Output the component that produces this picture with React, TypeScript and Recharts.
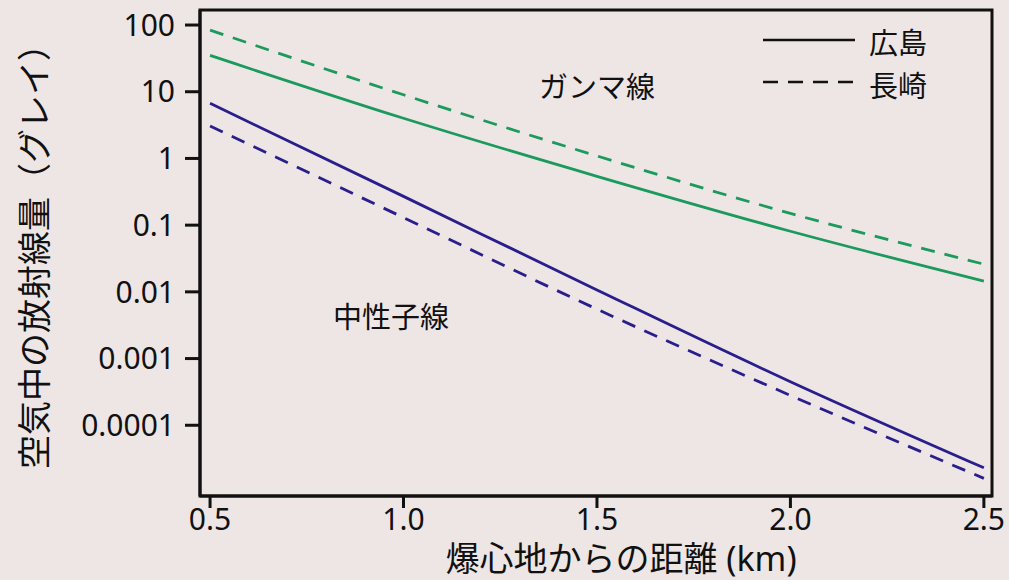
import {
  Legend,
  Line,
  LineChart,
  ReferenceArea,
  ReferenceDot,
  XAxis,
  YAxis,
  Label,
} from "recharts";

const distanceKm = [0.5, 1.0, 1.5, 2.0, 2.5];
const gammaHiroshima = [35, 4.0, 0.54, 0.081, 0.0145];
const gammaNagasaki = [84, 9.0, 1.09, 0.15, 0.026];
const neutronHiroshima = [6.7, 0.27, 0.0107, 0.00045, 0.000023];
const neutronNagasaki = [3.06, 0.13, 0.0055, 0.00028, 0.000016];

const xTicks = [0.5, 1.0, 1.5, 2.0, 2.5];
const yTicks = [0.0001, 0.001, 0.01, 0.1, 1, 10, 100];
const yTickLabels = ["0.0001", "0.001", "0.01", "0.1", "1", "10", "100"];

const X_DOMAIN: [number, number] = [0.474, 2.521];
const Y_DOMAIN: [number, number] = [0.0000087, 168];

const data = distanceKm.map((d, i) => ({
  d,
  gh: gammaHiroshima[i],
  gn: gammaNagasaki[i],
  nh: neutronHiroshima[i],
  nn: neutronNagasaki[i],
}));

const FONT = '"Noto Sans", "Noto Sans CJK JP", sans-serif';
const INK = "#111";
const GREEN = "#1c9a5e";
const BLUE = "#2a1d8c";
const DASH = "14 10";
const TICK = { fontSize: 30, fill: INK, fontFamily: FONT };

function LegendBox() {
  return (
    <svg width={200} height={100} style={{ display: "block" }}>
      <line x1={0} y1={20} x2={92} y2={20} stroke={INK} strokeWidth={2.5} />
      <text x={106} y={22} fontSize={29} fill={INK} fontFamily={FONT} dominantBaseline="central">
        広島
      </text>
      <line x1={0} y1={62} x2={92} y2={62} stroke={INK} strokeWidth={2.5} strokeDasharray="15 10" />
      <text x={106} y={65} fontSize={29} fill={INK} fontFamily={FONT} dominantBaseline="central">
        長崎
      </text>
    </svg>
  );
}

export default function App() {
  return (
    <div style={{ width: 1009, height: 580, background: "#ede6e5" }}>
      <style>{"body{margin:0}"}</style>
      <LineChart width={1009} height={580} data={data} margin={{ top: 10, right: 17, left: 0, bottom: 0 }}>
        <ReferenceArea
          x1={X_DOMAIN[0]}
          x2={X_DOMAIN[1]}
          y1={Y_DOMAIN[0]}
          y2={Y_DOMAIN[1]}
          fill="none"
          stroke={INK}
          strokeWidth={3}
          ifOverflow="visible"
        />
        <XAxis
          dataKey="d"
          type="number"
          domain={X_DOMAIN}
          ticks={xTicks}
          allowDataOverflow
          tickFormatter={(v: number) => v.toFixed(1)}
          tick={TICK}
          tickSize={12}
          tickMargin={1}
          height={84}
          axisLine={{ stroke: INK, strokeWidth: 3 }}
          tickLine={{ stroke: INK, strokeWidth: 3 }}
        >
          <Label
            content={() => (
              <text x={621} y={558} textAnchor="middle" dominantBaseline="central" fontSize={34} fill={INK} fontFamily={FONT}>
                爆心地からの距離 (km)
              </text>
            )}
          />
        </XAxis>
        <YAxis
          type="number"
          scale="log"
          domain={Y_DOMAIN}
          ticks={yTicks}
          allowDataOverflow
          tickFormatter={(v: number) => yTickLabels[yTicks.indexOf(v)] ?? String(v)}
          tick={TICK}
          tickSize={15}
          tickMargin={10}
          width={200}
          axisLine={{ stroke: INK, strokeWidth: 3 }}
          tickLine={{ stroke: INK, strokeWidth: 3 }}
        >
          <Label
            content={() => (
              <text
                transform="translate(34,248) rotate(-90)"
                textAnchor="middle"
                dominantBaseline="central"
                fontSize={34}
                fill={INK}
                fontFamily={FONT}
              >
                空気中の放射線量（グレイ）
              </text>
            )}
          />
        </YAxis>
        <Legend
          layout="horizontal"
          verticalAlign="middle"
          align="center"
          content={() => <LegendBox />}
          wrapperStyle={{ top: 20, left: 763, width: 200 }}
        />
        <Line isAnimationActive={false} type="monotone" dataKey="gn" name="ガンマ線 長崎" stroke={GREEN} strokeWidth={2.8} strokeDasharray={DASH} dot={false} />
        <Line isAnimationActive={false} type="monotone" dataKey="gh" name="ガンマ線 広島" stroke={GREEN} strokeWidth={2.8} dot={false} />
        <Line isAnimationActive={false} type="monotone" dataKey="nh" name="中性子線 広島" stroke={BLUE} strokeWidth={2.8} dot={false} />
        <Line isAnimationActive={false} type="monotone" dataKey="nn" name="中性子線 長崎" stroke={BLUE} strokeWidth={2.8} strokeDasharray={DASH} dot={false} />
        <ReferenceDot
          x={1.5}
          y={11.4}
          r={0}
          fill="none"
          stroke="none"
          label={{ value: "ガンマ線", position: "center", fontSize: 29, fill: INK, fontFamily: FONT }}
        />
        <ReferenceDot
          x={0.968}
          y={0.0041}
          r={0}
          fill="none"
          stroke="none"
          label={{ value: "中性子線", position: "center", fontSize: 29, fill: INK, fontFamily: FONT }}
        />
      </LineChart>
    </div>
  );
}
